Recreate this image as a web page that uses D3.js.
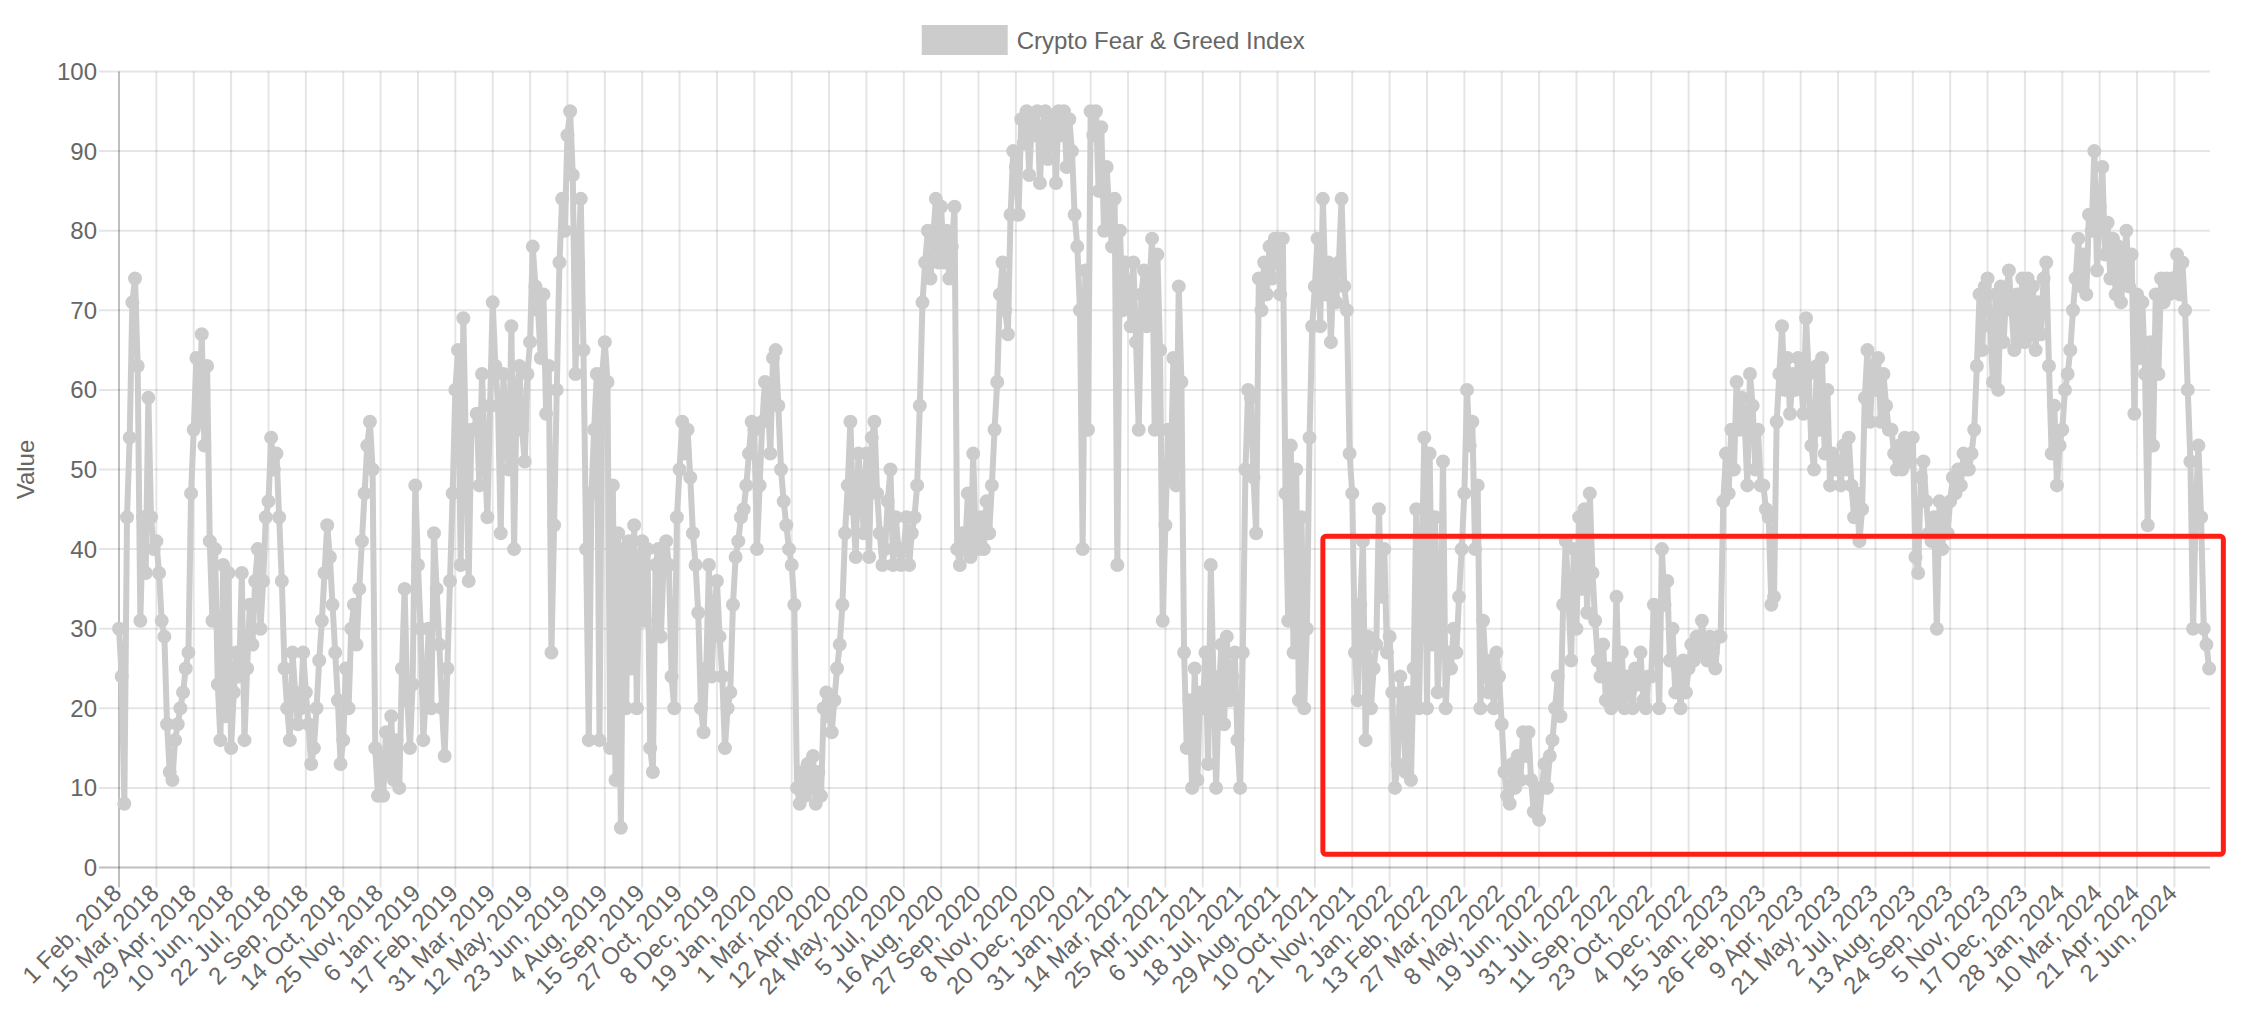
<!DOCTYPE html>
<html><head><meta charset="utf-8">
<script src="https://cdn.jsdelivr.net/npm/d3@7"></script>
<style>
html,body{margin:0;padding:0;background:#fff;}
svg{display:block;}
text{font-family:"Liberation Sans",Arial,Helvetica,sans-serif;}
</style></head><body>
<svg id="chart" width="2241" height="1033"></svg>
<script>
const seriesName = "Crypto Fear & Greed Index";
const yAxisTitle = "Value";

// category labels shown on the x axis (every 42nd day of the daily series)
const tickLabels = [
 "1 Feb, 2018","15 Mar, 2018","29 Apr, 2018","10 Jun, 2018","22 Jul, 2018","2 Sep, 2018","14 Oct, 2018","25 Nov, 2018",
 "6 Jan, 2019","17 Feb, 2019","31 Mar, 2019","12 May, 2019","23 Jun, 2019","4 Aug, 2019","15 Sep, 2019","27 Oct, 2019","8 Dec, 2019",
 "19 Jan, 2020","1 Mar, 2020","12 Apr, 2020","24 May, 2020","5 Jul, 2020","16 Aug, 2020","27 Sep, 2020","8 Nov, 2020","20 Dec, 2020",
 "31 Jan, 2021","14 Mar, 2021","25 Apr, 2021","6 Jun, 2021","18 Jul, 2021","29 Aug, 2021","10 Oct, 2021","21 Nov, 2021",
 "2 Jan, 2022","13 Feb, 2022","27 Mar, 2022","8 May, 2022","19 Jun, 2022","31 Jul, 2022","11 Sep, 2022","23 Oct, 2022","4 Dec, 2022",
 "15 Jan, 2023","26 Feb, 2023","9 Apr, 2023","21 May, 2023","2 Jul, 2023","13 Aug, 2023","24 Sep, 2023","5 Nov, 2023","17 Dec, 2023",
 "28 Jan, 2024","10 Mar, 2024","21 Apr, 2024","2 Jun, 2024"
];
const labelEvery = 42;     // categories between two shown labels
const sampleEvery = 3;     // categories between two read-off values below
const categoryCount = 2351;

const yTicks = [0,10,20,30,40,50,60,70,80,90,100];

// index values, one row per labelled 42-day span
const fearGreed = [
 30,24,8,44,54,71,74,63,31,44,37,59,44,40,
 41,37,31,29,18,12,11,16,18,20,22,25,27,47,
 55,64,56,67,53,63,41,31,40,23,16,38,19,37,
 15,22,27,24,37,16,25,33,28,36,40,30,36,44,
 46,54,50,52,44,36,25,20,16,27,22,18,20,27,
 22,18,13,15,20,26,31,37,43,39,33,27,21,13,
 16,25,20,30,33,28,35,41,47,53,56,50,15,9,
 14,9,17,12,19,11,16,10,25,35,21,15,23,48,
 38,30,16,22,30,20,42,35,28,20,14,25,36,47,
 60,65,38,69,52,36,55,55,57,48,62,52,44,58,
 71,63,58,42,62,55,50,68,40,60,63,55,51,62,
 66,78,73,70,64,72,57,63,27,43,60,76,84,80,
 92,95,87,62,76,84,65,40,16,47,55,62,16,62,
 66,61,15,48,11,42,5,40,20,41,25,43,20,39,
 41,31,40,15,12,38,40,29,38,41,38,24,20,44,
 50,56,52,55,49,42,38,32,20,17,25,38,24,32,
 36,29,24,15,20,22,33,39,41,44,45,48,52,56,
 55,40,48,56,61,59,52,64,65,58,50,46,43,40,
 38,33,10,8,12,9,13,10,14,8,12,9,20,22,
 19,17,21,25,28,33,42,48,56,45,39,52,48,42,
 52,39,54,56,47,42,38,40,46,50,38,44,40,38,
 40,44,38,42,44,48,58,71,76,80,74,79,84,76,
 83,76,80,74,78,83,40,38,42,40,47,39,52,40,
 40,44,40,46,42,48,55,61,72,76,70,67,82,90,
 88,82,94,91,95,87,94,92,95,86,93,95,89,94,
 94,86,95,92,95,88,94,90,82,78,70,40,75,55,
 95,92,95,85,93,80,88,82,78,84,38,80,70,76,
 73,68,76,66,55,72,75,68,73,79,55,77,65,31,
 43,55,49,64,48,73,61,27,15,21,10,25,11,22,
 20,27,13,38,24,10,22,28,18,29,21,24,27,16,
 10,27,50,60,59,49,42,74,70,76,72,78,74,79,
 79,72,79,47,31,53,27,50,21,44,20,30,54,68,
 73,79,68,84,72,76,66,75,71,76,84,73,70,52,
 47,27,21,33,41,16,29,20,25,28,45,34,40,27,
 29,22,10,13,24,20,12,22,11,25,45,20,37,54,
 20,52,28,44,22,30,51,20,27,25,30,27,34,40,
 47,60,53,56,40,48,20,31,25,22,26,20,27,24,
 18,12,9,8,13,10,14,11,17,14,17,11,7,10,
 6,10,13,10,14,16,20,24,19,33,41,34,26,40,
 30,44,35,45,32,47,37,31,26,24,28,21,25,20,
 22,34,21,27,20,24,22,20,25,23,27,21,20,24,
 24,33,30,20,40,33,36,26,30,22,25,20,26,22,
 25,28,26,29,27,31,28,26,29,27,25,29,29,46,
 52,47,55,50,61,55,59,56,48,62,58,50,55,48,
 48,45,44,33,34,56,62,68,60,64,57,62,60,64,
 62,57,69,62,53,50,63,55,64,52,60,48,52,50,
 51,48,53,50,54,48,44,47,41,45,59,65,56,63,
 60,64,56,62,58,55,55,52,50,53,50,54,52,51,
 54,39,37,49,51,46,42,41,44,30,46,40,45,42,
 46,49,47,50,48,52,50,50,52,55,63,72,65,73,
 74,68,61,72,60,73,66,72,75,70,65,72,66,74,
 66,74,67,73,65,71,67,74,76,63,52,58,48,53,
 55,60,62,65,70,74,79,73,77,72,82,80,90,75,
 83,88,77,81,74,79,72,78,71,75,80,73,77,57,
 72,64,71,62,43,66,53,72,62,74,71,74,72,74,
 73,77,72,76,70,60,51,30,45,53,44,30,28,25
];

// highlighted region (category index range, value range)
const highlightCategories = [1353, 2365];
const highlightValues = [1.66, 41.6];

const svg = d3.select("#chart");
const plot = {left: 119, right: 2210, top: 71.5, bottom: 867.5};
const gray = "#cccccc", textColor = "#666666";
const gridColor = "rgba(0,0,0,0.1)", zeroColor = "rgba(0,0,0,0.25)";

const x = d3.scaleLinear().domain([0, categoryCount - 1]).range([plot.left, plot.right]);
const y = d3.scaleLinear().domain([0, 100]).range([plot.bottom, plot.top]);

// horizontal grid lines
svg.append("g").selectAll("line").data(yTicks).join("line")
  .attr("x1", plot.left - 20).attr("x2", plot.right)
  .attr("y1", d => y(d)).attr("y2", d => y(d))
  .attr("stroke", d => d === 0 ? zeroColor : gridColor).attr("stroke-width", 2);

// vertical grid lines
svg.append("g").selectAll("line").data(tickLabels).join("line")
  .attr("x1", (d, i) => x(i * labelEvery)).attr("x2", (d, i) => x(i * labelEvery))
  .attr("y1", plot.top).attr("y2", plot.bottom + 20)
  .attr("stroke", (d, i) => i === 0 ? zeroColor : gridColor).attr("stroke-width", 2);

// y tick labels
svg.append("g").selectAll("text").data(yTicks).join("text")
  .attr("x", 97).attr("y", d => y(d))
  .attr("text-anchor", "end").attr("dominant-baseline", "central")
  .attr("font-size", 24).attr("fill", textColor)
  .text(d => d);

// x tick labels
svg.append("g").selectAll("text").data(tickLabels).join("text")
  .attr("transform", (d, i) => `translate(${x(i * labelEvery) - 2},${plot.bottom + 21}) rotate(-45)`)
  .attr("text-anchor", "end").attr("dominant-baseline", "central")
  .attr("font-size", 24).attr("fill", textColor)
  .text(d => d);

// y axis title
svg.append("text")
  .attr("transform", `translate(25,${(plot.top + plot.bottom) / 2}) rotate(-90)`)
  .attr("text-anchor", "middle").attr("dominant-baseline", "central")
  .attr("font-size", 24).attr("fill", textColor)
  .text(yAxisTitle);

// series
const pts = fearGreed.map((v, i) => ({c: i * sampleEvery, v}));
const line = d3.line().x(d => x(d.c)).y(d => y(d.v));
svg.append("path").datum(pts)
  .attr("d", line).attr("fill", "none")
  .attr("stroke", gray).attr("stroke-width", 6).attr("stroke-linejoin", "round");
svg.append("g").selectAll("circle").data(pts).join("circle")
  .attr("cx", d => x(d.c)).attr("cy", d => y(d.v)).attr("r", 6)
  .attr("fill", gray).attr("stroke", gray).attr("stroke-width", 2);

// highlight box
svg.append("rect")
  .attr("x", x(highlightCategories[0])).attr("y", y(highlightValues[1]))
  .attr("width", x(highlightCategories[1]) - x(highlightCategories[0]))
  .attr("height", y(highlightValues[0]) - y(highlightValues[1]))
  .attr("rx", 3).attr("ry", 3)
  .attr("fill", "none").attr("stroke", "#ff1e14").attr("stroke-width", 5);

// legend
const legend = svg.append("g");
legend.append("rect").attr("x", 924.7).attr("y", 28).attr("width", 80).attr("height", 24)
  .attr("fill", gray).attr("stroke", gray).attr("stroke-width", 6);
legend.append("text").attr("x", 1016.7).attr("y", 40)
  .attr("dominant-baseline", "central").attr("font-size", 24).attr("fill", textColor)
  .text(seriesName);
</script>
</body></html>
